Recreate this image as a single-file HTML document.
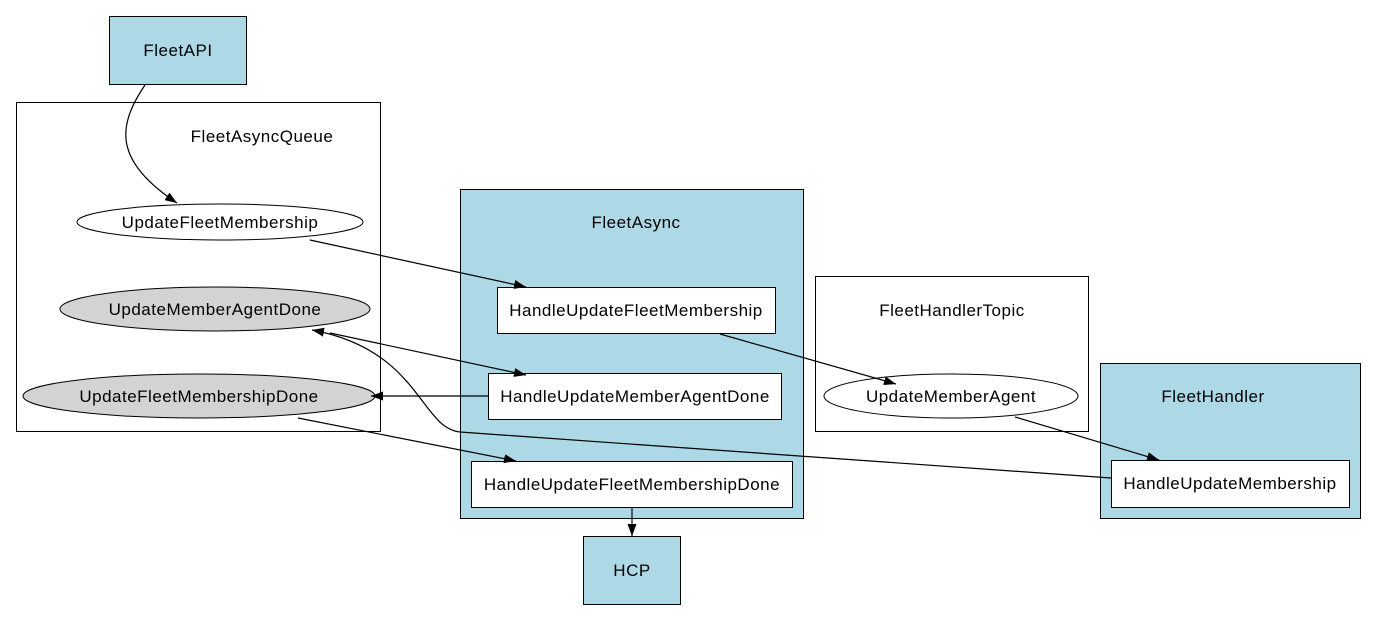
<!DOCTYPE html>
<html><head><meta charset="utf-8"><style>
html,body{margin:0;padding:0;background:#fff;}
svg{display:block;}
text{font-family:"Liberation Sans",Arial,sans-serif;font-size:17px;letter-spacing:0.5px;fill:#000;}
</style></head><body>
<svg width="1377" height="621" viewBox="0 0 1377 621" xmlns="http://www.w3.org/2000/svg">
<defs>
<marker id="a" markerWidth="12" markerHeight="9" refX="12" refY="4.5" orient="auto" markerUnits="userSpaceOnUse">
<path d="M0,0 L12,4.5 L0,9 z" fill="#000"/>
</marker>
</defs>
<rect x="0" y="0" width="1377" height="621" fill="#fff"/>
<rect x="16.5" y="102.5" width="364" height="329" fill="#fff" stroke="#000"/>
<text x="262" y="142" text-anchor="middle">FleetAsyncQueue</text>
<rect x="460.5" y="189.5" width="343" height="329" fill="#add8e6" stroke="#000"/>
<text x="636" y="228" text-anchor="middle">FleetAsync</text>
<rect x="815.5" y="276.5" width="273" height="155" fill="#fff" stroke="#000"/>
<text x="952" y="316" text-anchor="middle">FleetHandlerTopic</text>
<rect x="1100.5" y="363.5" width="260" height="155" fill="#add8e6" stroke="#000"/>
<text x="1213" y="402" text-anchor="middle">FleetHandler</text>
<rect x="109.5" y="16.5" width="137" height="68" fill="#add8e6" stroke="#000"/>
<text x="178" y="56" text-anchor="middle">FleetAPI</text>
<ellipse cx="220" cy="222" rx="143" ry="18" fill="#fff" stroke="#000"/>
<text x="220" y="228" text-anchor="middle">UpdateFleetMembership</text>
<ellipse cx="215" cy="309" rx="155" ry="22" fill="#d3d3d3" stroke="#000"/>
<text x="215" y="315" text-anchor="middle">UpdateMemberAgentDone</text>
<ellipse cx="199" cy="396" rx="176" ry="22" fill="#d3d3d3" stroke="#000"/>
<text x="199" y="402" text-anchor="middle">UpdateFleetMembershipDone</text>
<rect x="497.5" y="287.5" width="278" height="46" fill="#fff" stroke="#000"/>
<text x="636" y="316" text-anchor="middle">HandleUpdateFleetMembership</text>
<rect x="488.5" y="373.5" width="293" height="46" fill="#fff" stroke="#000"/>
<text x="635" y="402" text-anchor="middle">HandleUpdateMemberAgentDone</text>
<rect x="471.5" y="461.5" width="321" height="46" fill="#fff" stroke="#000"/>
<text x="632" y="490" text-anchor="middle">HandleUpdateFleetMembershipDone</text>
<ellipse cx="951" cy="396" rx="127" ry="22" fill="#fff" stroke="#000"/>
<text x="951" y="402" text-anchor="middle">UpdateMemberAgent</text>
<rect x="1111.5" y="460.5" width="238" height="47" fill="#fff" stroke="#000"/>
<text x="1230" y="489" text-anchor="middle">HandleUpdateMembership</text>
<rect x="583.5" y="536.5" width="97" height="68" fill="#add8e6" stroke="#000"/>
<text x="632" y="576" text-anchor="middle">HCP</text>
<g fill="none" stroke="#000" stroke-width="1.2">
<path d="M145,85 C118,125 112,160 177,203" marker-end="url(#a)"/>
<path d="M310,240 L526,287" marker-end="url(#a)"/>
<path d="M720,334 L896,384" marker-end="url(#a)"/>
<path d="M1015,417 L1159,460" marker-end="url(#a)"/>
<path d="M1111,478 L460,432 C420,428 420,350 312,330" marker-end="url(#a)"/>
<path d="M330,333 L526,375" marker-end="url(#a)"/>
<path d="M488,396 L371,396" marker-end="url(#a)"/>
<path d="M298,418 L516,461" marker-end="url(#a)"/>
<path d="M632,508 L632,536" marker-end="url(#a)"/>
</g>
</svg>
</body></html>
